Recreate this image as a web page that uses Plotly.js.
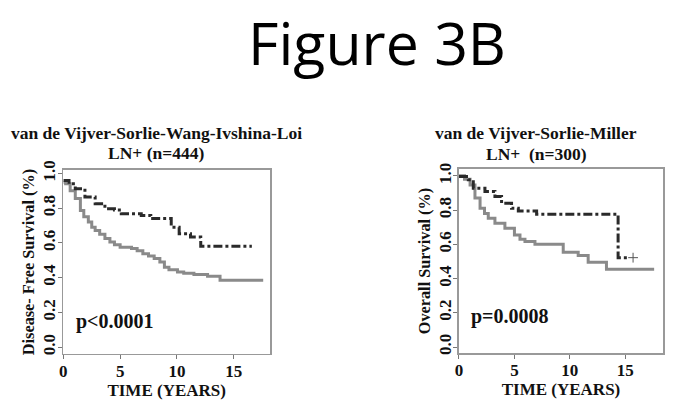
<!DOCTYPE html>
<html>
<head>
<meta charset="utf-8">
<script src="https://cdn.plot.ly/plotly-3.0.1.min.js"></script>
<style>
  html, body { margin: 0; padding: 0; background: #fff; }
  #plot { width: 674px; height: 409px; }
</style>
</head>
<body>
<div id="plot"></div>
<script>
// left panel: disease-free survival, LN+ (n=444)
const dfsYears    = [0, 0.2, 0.6, 1.05, 1.5, 1.8, 2.2, 2.5, 2.8, 3.2, 3.66, 4.1, 4.5, 5.0, 6.0, 6.5, 7.0, 7.5, 8.0, 8.5, 8.9, 9.3, 10.05, 10.6, 11.5, 12.7, 13.8, 17.6];
const dfsLow      = [0.95, 0.94, 0.90, 0.855, 0.787, 0.75, 0.72, 0.69, 0.672, 0.65, 0.625, 0.605, 0.59, 0.575, 0.567, 0.555, 0.538, 0.525, 0.51, 0.49, 0.46, 0.445, 0.433, 0.425, 0.418, 0.408, 0.385, 0.385];
const dfsHighYrs  = [0, 0.5, 1.05, 1.9, 2.8, 3.66, 4.5, 5.1, 6.86, 7.7, 8.9, 9.5, 10.2, 11.2, 12.1, 16.6];
const dfsHigh     = [0.96, 0.94, 0.912, 0.864, 0.826, 0.797, 0.79, 0.768, 0.758, 0.74, 0.74, 0.69, 0.653, 0.634, 0.58, 0.58];

// right panel: overall survival, LN+ (n=300)
const osYears     = [0, 0.5, 1.0, 1.44, 1.9, 2.3, 2.64, 3.24, 4.14, 5.0, 5.5, 5.95, 6.85, 9.4, 10.75, 11.65, 13.3, 17.6];
const osLow       = [1.0, 0.98, 0.947, 0.87, 0.81, 0.78, 0.752, 0.723, 0.694, 0.655, 0.63, 0.616, 0.6, 0.554, 0.534, 0.495, 0.454, 0.454];
const osHighYrs   = [0, 0.84, 1.29, 2.34, 3.24, 3.84, 4.74, 5.35, 7.0, 14.35, 15.2];
const osHigh      = [0.996, 0.977, 0.928, 0.908, 0.879, 0.84, 0.811, 0.795, 0.776, 0.522, 0.522];
// censor mark at the end of the dashed OS curve
const osCensorX   = [15.7];
const osCensorY   = [0.522];

const xTicks = [0, 5, 10, 15];
const yTicks = [0, 0.2, 0.4, 0.6, 0.8, 1.0];

const serif = 'Liberation Serif, Times New Roman, serif';
const grey = '#8a8a8a';
const dark = '#2a2a2a';

function lowTrace(x, y, xa, ya) {
  return { x: x, y: y, xaxis: xa, yaxis: ya, mode: 'lines', type: 'scatter',
    line: { shape: 'hv', color: grey, width: 3 }, hoverinfo: 'skip' };
}
function highTrace(x, y, xa, ya) {
  return { x: x, y: y, xaxis: xa, yaxis: ya, mode: 'lines', type: 'scatter',
    line: { shape: 'hv', color: dark, width: 3, dash: 'dashdot' }, hoverinfo: 'skip' };
}

const traces = [
  lowTrace(dfsYears, dfsLow, 'x', 'y'),
  highTrace(dfsHighYrs, dfsHigh, 'x', 'y'),
  lowTrace(osYears, osLow, 'x2', 'y2'),
  highTrace(osHighYrs, osHigh, 'x2', 'y2'),
  { x: osCensorX, y: osCensorY, xaxis: 'x2', yaxis: 'y2', mode: 'markers', type: 'scatter',
    marker: { symbol: 'cross-thin', size: 7, line: { color: '#555', width: 1 } }, hoverinfo: 'skip' }
];

function xAxis(domain, range, anchor) {
  return {
    domain: domain, range: range, anchor: anchor,
    tickvals: xTicks, ticks: 'outside', ticklen: 4, tickcolor: '#777',
    ticklabelstandoff: -3,
    showline: true, mirror: true, linecolor: '#999', linewidth: 1.5,
    showgrid: false, zeroline: false,
    tickfont: { family: serif, size: 17, color: '#111', weight: 'bold' },
    title: { text: '<b>TIME (YEARS)</b>', font: { family: serif, size: 17, color: '#111' }, standoff: 0 }
  };
}
function yAxis(domain, range, anchor, label) {
  return {
    domain: domain, range: range, anchor: anchor,
    tickvals: yTicks, tickformat: '.1f', tickangle: -90,
    ticks: 'outside', ticklen: 4, tickcolor: '#777',
    ticklabelstandoff: -4,
    showline: true, mirror: true, linecolor: '#999', linewidth: 1.5,
    showgrid: false, zeroline: false,
    tickfont: { family: serif, size: 17, color: '#111', weight: 'bold' },
    title: { text: '<b>' + label + '</b>', font: { family: serif, size: 16.3, color: '#111' }, standoff: 1 }
  };
}

function note(text, x, y, size, family) {
  return { text: text, xref: 'paper', yref: 'paper', x: x / 674, y: 1 - y / 409,
    xanchor: 'center', yanchor: 'middle', showarrow: false,
    font: { family: family || serif, size: size, color: '#111' } };
}

const bigTitle = note('Figure 3B', 377, 0, 59, 'Open Sans, sans-serif');
bigTitle.yanchor = 'top';
bigTitle.font.color = '#000';

const layout = {
  width: 674, height: 409,
  margin: { l: 0, r: 0, t: 0, b: 0 },
  paper_bgcolor: '#fff', plot_bgcolor: '#fff',
  showlegend: false,
  xaxis: xAxis([0.094, 0.4006], [0, 18.2], 'y'),
  yaxis: yAxis([0.1345, 0.5844], [-0.04, 1.02], 'x', 'Disease- Free Survival (%)'),
  xaxis2: xAxis([0.681, 0.9837], [0, 18.4], 'y2'),
  yaxis2: yAxis([0.1369, 0.5868], [-0.035, 1.04], 'x2', 'Overall Survival (%)'),
  annotations: [
    bigTitle,
    note('<b>van de Vijver-Sorlie-Wang-Ivshina-Loi</b>', 156, 133, 17.5),
    note('<b>LN+ (n=444)</b>', 156, 153, 17.5),
    note('<b>van de Vijver-Sorlie-Miller</b>', 536, 133, 17.5),
    note('<b>LN+  (n=300)</b>', 536, 154, 17.5),
    note('<b>p<0.0001</b>', 115, 321, 20),
    note('<b>p=0.0008</b>', 510, 316, 20)
  ]
};

Plotly.newPlot('plot', traces, layout, { staticPlot: true, displayModeBar: false });
</script>
</body>
</html>
